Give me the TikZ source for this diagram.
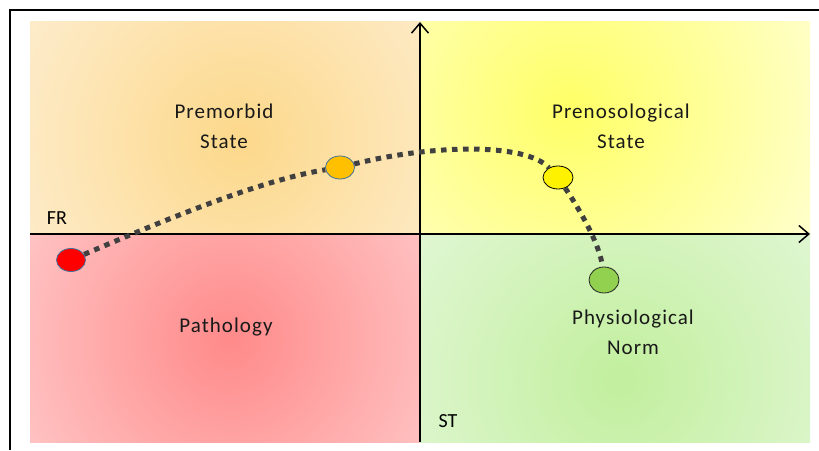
\documentclass[tikz,border=0pt]{standalone}
\usepackage{fontspec}
\setmainfont{Carlito}
\usetikzlibrary{arrows.meta, shapes.geometric}
\definecolor{dotgray}{HTML}{404040}
\definecolor{ringblue}{HTML}{41719C}
\definecolor{premorbIn}{HTML}{FCD88A}
\definecolor{premorbOut}{HTML}{FEF3E2}
\definecolor{prenosoIn}{HTML}{FFFF66}
\definecolor{prenosoOut}{HTML}{FFFFE2}
\definecolor{pathIn}{HTML}{FF8A8A}
\definecolor{pathOut}{HTML}{FFDCDC}
\definecolor{normIn}{HTML}{C2EF9E}
\definecolor{normOut}{HTML}{EAF9E4}
\definecolor{premorbDot}{HTML}{FFC000}
\definecolor{normDot}{HTML}{92D050}

\begin{document}
\begin{tikzpicture}[
  x=1pt, y=1pt,
  zone/.style={font=\fontsize{21}{30}\selectfont\addfontfeature{LetterSpace=5},
               align=center, text=black!90},
  axislabel/.style={font=\fontsize{20}{24}\selectfont, text=black},
  state/.style={ellipse, draw=ringblue, line width=0.8pt, inner sep=0pt,
                minimum width=29pt, minimum height=23pt},
  trend/.style={line width=5pt, dash pattern=on 5.5pt off 5.5pt, dotgray},
  axis/.style={line width=1.5pt, -{Straight Barb[length=10pt, width=17pt]}},
]
\useasboundingbox (0,0) rectangle (819,450);

% frame
\draw[line width=2pt] (10,0) -- (10,440) -- (819,440);

% quadrants
\begin{scope}
  \clip (30,216) rectangle (420,428);
  \shade[inner color=premorbIn, outer color=premorbOut] (240,310) circle (330);
\end{scope}
\begin{scope}
  \clip (420,216) rectangle (810,428);
  \shade[inner color=prenosoIn, outer color=prenosoOut] (570,340) circle (330);
\end{scope}
\begin{scope}
  \clip (30,8) rectangle (420,216);
  \shade[inner color=pathIn, outer color=pathOut] (230,110) circle (330);
\end{scope}
\begin{scope}
  \clip (420,8) rectangle (810,216);
  \shade[inner color=normIn, outer color=normOut] (620,70) circle (330);
\end{scope}

% axes
\draw[axis] (30,216) -- (810,216);
\draw[axis] (420,8) -- (420,428);
\node[axislabel] (fr) at (57,232) {FR};
\node[axislabel] (st) at (448,29) {ST};

% zone names
\node[zone] (premorb) at (224,324) {Premorbid\\State};
\node[zone] (prenoso) at (621,324) {Prenosological\\State};
\node[zone] (patho) at (226,123) {Pathology};
\node[zone] (norm) at (633,118) {Physiological\\Norm};

% states along the trend
\node[state, fill=red] (pathpt) at (71,190) {};
\node[state, fill=premorbDot] (premorbpt) at (340,282.5) {};
\node[state, draw=black, fill=yellow, minimum width=30pt] (prenosopt) at (558,272.5) {};
\node[state, draw=black!85, fill=normDot, minimum width=30pt, minimum height=26pt] (normpt) at (604,170) {};

\draw[trend] (pathpt) .. controls (160,228) and (260,270) .. (premorbpt);
\draw[trend] (premorbpt) .. controls (430,305) and (525,308) .. (prenosopt);
\draw[trend] (prenosopt) .. controls (580,240) and (600,205) .. (normpt);
\end{tikzpicture}
\end{document}
